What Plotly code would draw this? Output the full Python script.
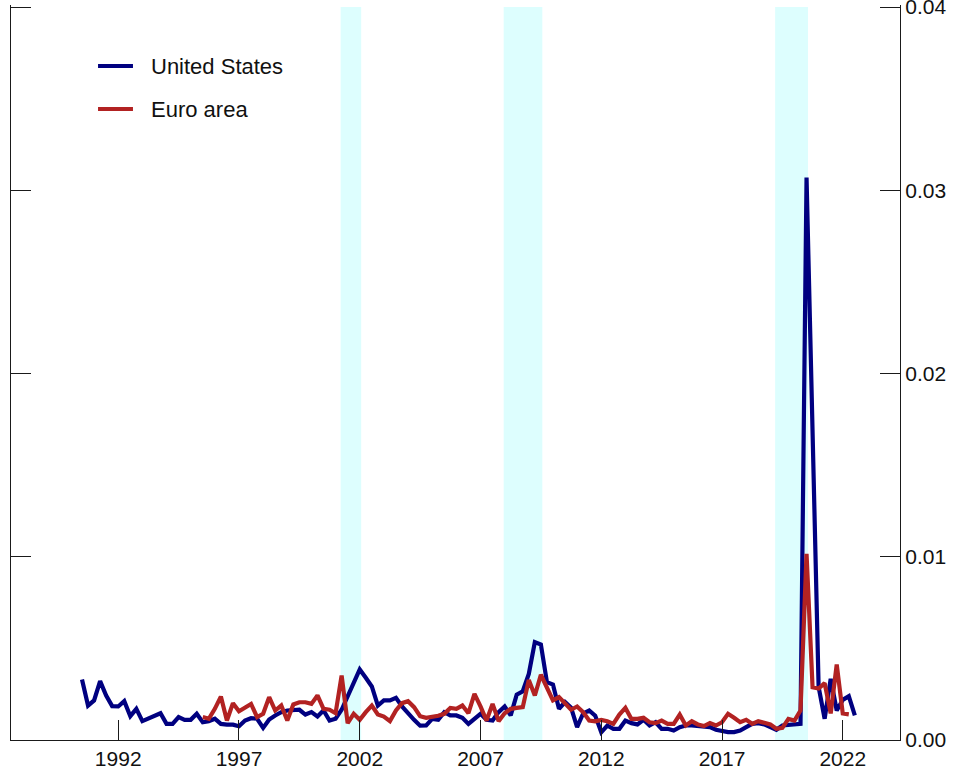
import numpy as np
import plotly.graph_objects as go

# Quarterly series, values in thousandths (x 1e-3)
us_start = 1990.5
us_vals_e3 = [
    3.30, 1.88,
    2.16, 3.21, 2.43, 1.85,
    1.83, 2.12, 1.30, 1.70,
    1.03, 1.16, 1.34, 1.46,
    0.88, 0.88, 1.25, 1.10,
    1.10, 1.43, 0.97, 1.03,
    1.16, 0.88, 0.84, 0.84,
    0.75, 1.06, 1.19, 1.16,
    0.66, 1.12, 1.34, 1.52,
    1.61, 1.61, 1.65, 1.39,
    1.52, 1.28, 1.61, 1.06,
    1.16, 1.65, 2.43, 3.20,
    3.85, 3.40, 2.92, 1.88,
    2.16, 2.16, 2.30, 1.83,
    1.43, 1.10, 0.78, 0.79,
    1.15, 1.10, 1.52, 1.34,
    1.34, 1.21, 0.88, 1.15,
    1.43, 1.10, 1.06, 1.52,
    1.83, 1.34, 2.48, 2.66,
    3.61, 5.34, 5.21, 3.16,
    3.03, 1.70, 2.07, 1.76,
    0.70, 1.45, 1.61, 1.33,
    0.42, 0.79, 0.61, 0.61,
    1.06, 0.92, 0.85, 1.10,
    0.79, 0.97, 0.61, 0.61,
    0.52, 0.70, 0.79, 0.79,
    0.77, 0.74, 0.70, 0.56,
    0.48, 0.43, 0.43, 0.52,
    0.70, 0.88, 0.92, 0.85,
    0.70, 0.56, 0.79, 0.83,
    0.83, 0.88, 30.70, 16.80,
    2.90, 1.16, 3.34, 1.61,
    2.19, 2.39, 1.34,
]

ea_start = 1995.5
ea_vals_e3 = [
    1.25, 1.16,
    1.70, 2.37, 1.06, 2.01,
    1.57, 1.79, 1.97, 1.25,
    1.43, 2.34, 1.61, 1.88,
    1.06, 1.94, 2.06, 2.06,
    1.97, 2.43, 1.70, 1.65,
    1.46, 3.52, 0.92, 1.43,
    1.10, 1.52, 1.88, 1.39,
    1.28, 1.03, 1.61, 2.01,
    2.12, 1.79, 1.30, 1.21,
    1.25, 1.32, 1.43, 1.75,
    1.70, 1.88, 1.46, 2.52,
    1.83, 1.06, 1.97, 1.03,
    1.46, 1.70, 1.75, 1.79,
    3.28, 2.43, 3.56, 2.79,
    2.16, 2.34, 1.97, 1.65,
    1.83, 1.52, 1.06, 1.02,
    1.10, 1.02, 0.88, 1.39,
    1.75, 1.15, 1.15, 1.21,
    0.97, 0.92, 1.06, 0.88,
    0.88, 1.39, 0.79, 1.02,
    0.85, 0.76, 0.92, 0.79,
    0.97, 1.43, 1.21, 0.97,
    1.10, 0.88, 1.03, 0.92,
    0.85, 0.61, 0.66, 1.15,
    1.06, 1.61, 10.16, 2.88,
    2.81, 3.10, 1.45, 4.12,
    1.45, 1.40,
]

# Recession periods (decimal years)
recessions = [(2001.21, 2002.06), (2007.96, 2009.56), (2019.20, 2020.56)]

x_ticks = [1992, 1997, 2002, 2007, 2012, 2017, 2022]
y_ticks = [0.0, 0.01, 0.02, 0.03, 0.04]
y_tick_text = ["0.00", "0.01", "0.02", "0.03", "0.04"]

series_names = ["United States", "Euro area"]
series_colors = ["#000080", "#B22222"]

us_x = us_start + 0.25 * np.arange(len(us_vals_e3))
ea_x = ea_start + 0.25 * np.arange(len(ea_vals_e3))
us_y = np.array(us_vals_e3) * 1e-3
ea_y = np.array(ea_vals_e3) * 1e-3

FONT = "Liberation Sans, Arial, sans-serif"
AXIS_COLOR = "#1a1a1a"
# a sliver of headroom above 0.04 so the top tick is kept
Y_RANGE = [0, 0.04011]

fig = go.Figure()
fig.add_trace(go.Scatter(x=us_x, y=us_y, mode="lines", name=series_names[0],
                         line=dict(color=series_colors[0], width=4.2), showlegend=False))
fig.add_trace(go.Scatter(x=ea_x, y=ea_y, mode="lines", name=series_names[1],
                         line=dict(color=series_colors[1], width=4.2), showlegend=False))
# invisible trace so the right-hand axis is rendered
fig.add_trace(go.Scatter(x=[x_ticks[0]], y=[0], yaxis="y2", mode="markers",
                         marker=dict(opacity=0), showlegend=False, hoverinfo="skip"))

for x0, x1 in recessions:
    fig.add_shape(type="rect", xref="x", yref="y", x0=x0, x1=x1, y0=0, y1=y_ticks[-1],
                  fillcolor="#DDFEFE", line=dict(width=0), layer="below")

# hand-placed legend
legend_rows = [0.917, 0.8585]
for name, color, yy in zip(series_names, series_colors, legend_rows):
    fig.add_shape(type="line", xref="paper", yref="paper", x0=0.0979, x1=0.1372,
                  y0=yy, y1=yy, line=dict(color=color, width=4))
    fig.add_annotation(xref="paper", yref="paper", x=0.1552, y=yy, text=name,
                       showarrow=False, xanchor="left", yanchor="middle",
                       font=dict(family=FONT, size=22, color="#111"))

axis_common = dict(ticks="inside", ticklen=20, tickcolor=AXIS_COLOR, tickwidth=1.3,
                   showline=True, linecolor=AXIS_COLOR, linewidth=1.3,
                   showgrid=False, zeroline=False, automargin=False,
                   ticklabeloverflow="allow")

fig.update_layout(
    width=954, height=772,
    margin=dict(l=11, r=54, t=5, b=32, autoexpand=False),
    paper_bgcolor="white", plot_bgcolor="white",
    font=dict(family=FONT, size=21, color="#111"),
    showlegend=False,
    xaxis=dict(range=[1987.56, 2024.37], tickvals=x_ticks,
               tickfont=dict(family=FONT, size=21, color="#111"), **axis_common),
    yaxis=dict(range=Y_RANGE, tickvals=y_ticks, showticklabels=False, **axis_common),
    yaxis2=dict(range=Y_RANGE, tickvals=y_ticks, ticktext=y_tick_text, overlaying="y",
                side="right", tickfont=dict(family=FONT, size=21, color="#111"),
                **axis_common),
)

fig.write_html("out.html")
